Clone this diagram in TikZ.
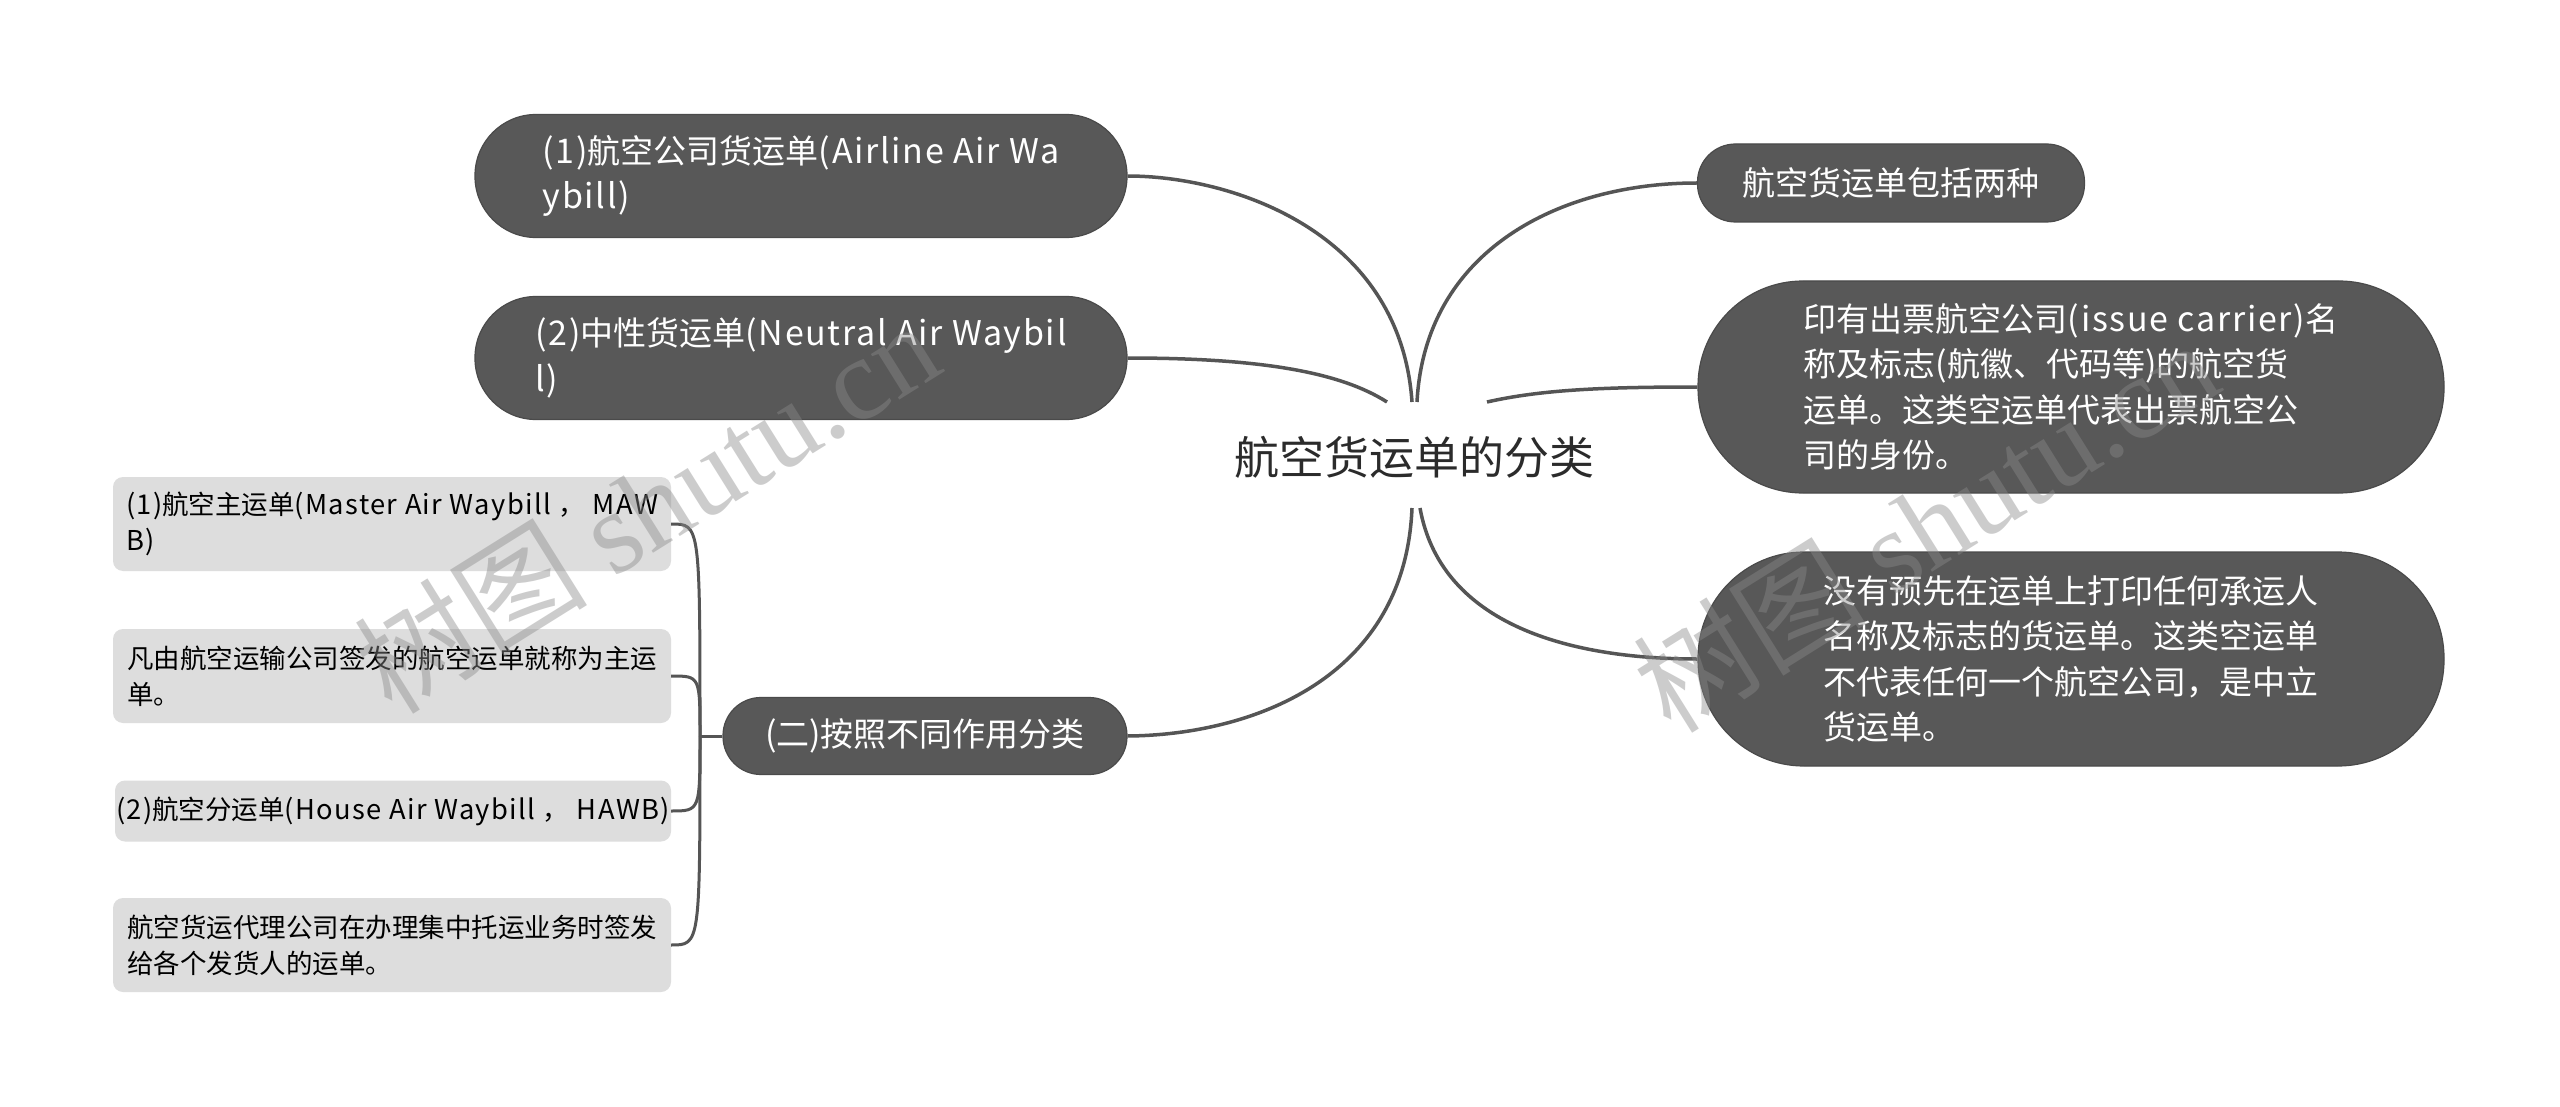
\documentclass[tikz,border=0pt]{standalone}
\usepackage{fontspec}
\usetikzlibrary{calc}
\setmainfont{Noto Sans CJK SC}
\newfontfamily\latf{Noto Sans CJK SC}[Scale=1.03, LetterSpace=5]
\newcommand{\lt}[1]{{\latf #1}}
\newfontfamily\wmserif{Liberation Serif}
\definecolor{nodeDark}{HTML}{585858}
\definecolor{nodeEdge}{HTML}{4A4A4A}
\definecolor{nodeLight}{HTML}{DDDDDD}
\definecolor{linkC}{HTML}{555555}
\definecolor{rootC}{HTML}{2B2B2B}
\definecolor{wmC}{HTML}{8A8A8A}
\tikzset{
  dark/.style={fill=nodeDark, draw=nodeEdge, line width=1.2pt, text=white, inner sep=0pt,
    align=left, font=\fontsize{33}{45.5}\selectfont},
  light/.style={fill=nodeLight, rounded corners=10pt, inner sep=0pt, align=left,
    text=black, font=\fontsize{26.5}{36}\selectfont},
  link/.style={draw=linkC, line width=3.5pt},
  sublink/.style={draw=linkC, line width=3pt},
  wm/.style={text=wmC, text opacity=0.43, inner sep=0pt, font=\fontsize{117}{117}\selectfont},
}
\begin{document}
\begin{tikzpicture}[x=1pt, y=-1pt]
\useasboundingbox[fill=white] (0,0) rectangle (2560,1107);

% root
\node[text=rootC, font=\fontsize{45}{50}\selectfont] (root) at (1414,457) {航空货运单的分类};

% left main branches
\node[dark, minimum width=652pt, minimum height=123pt, rounded corners=61pt] (A) at (801,176)
  {\lt{(1)}航空公司货运单\lt{(Airline Air Wa}\\\lt{ybill)}};
\node[dark, minimum width=652pt, minimum height=123pt, rounded corners=61pt] (B) at (801,358)
  {\lt{(2)}中性货运单\lt{(Neutral Air Waybil}\\\lt{l)}};
\node[dark, minimum width=404pt, minimum height=77pt, rounded corners=38pt] (T2) at (925,736)
  {\lt{(}二\lt{)}按照不同作用分类};

% right main branches
\node[dark, minimum width=387pt, minimum height=78pt, rounded corners=38pt] (C) at (1891,183)
  {航空货运单包括两种};
\node[dark, minimum width=746pt, minimum height=212pt, rounded corners=105pt] (D) at (2071,387)
  {印有出票航空公司\lt{(issue carrier)}名\\称及标志\lt{(}航徽、代码等\lt{)}的航空货\\运单。这类空运单代表出票航空公\\司的身份。};
\node[dark, minimum width=746pt, minimum height=214pt, rounded corners=106pt] (E) at (2071,659)
  {没有预先在运单上打印任何承运人\\名称及标志的货运单。这类空运单\\不代表任何一个航空公司，是中立\\货运单。};

% leaves
\node[light, minimum width=558pt, minimum height=94pt] (L1) at (392,524)
  {\lt{(1)}航空主运单\lt{(Master Air Waybill }，\lt{ MAW}\\\lt{B)}};
\node[light, minimum width=558pt, minimum height=94pt] (L2) at (392,676)
  {凡由航空运输公司签发的航空运单就称为主运\\单。};
\node[light, minimum width=556pt, minimum height=61pt] (L3) at (393,811)
  {\lt{(2)}航空分运单\lt{(House Air Waybill }，\lt{ HAWB)}};
\node[light, minimum width=558pt, minimum height=94pt] (L4) at (392,945)
  {航空货运代理公司在办理集中托运业务时签发\\给各个发货人的运单。};

% connection points near root
\coordinate (rA) at ($(root)+(-2,-55)$);
\coordinate (rB) at ($(root)+(-27,-55)$);
\coordinate (rC) at ($(root)+(3,-55)$);
\coordinate (rD) at ($(root)+(73,-55)$);
\coordinate (r2) at ($(root)+(-2,51)$);
\coordinate (rE) at ($(root)+(6,51)$);
\coordinate (sp) at (700,736);

\draw[link] (rA) .. controls (1400,230) and (1230,176) .. (A.east);
\draw[link] (rB) .. controls (1340,372) and (1260,358) .. (B.east);
\draw[link] (r2) .. controls (1405,680) and (1250,735) .. (T2.east);
\draw[link] (rC) .. controls (1425,250) and (1560,183) .. (C.west);
\draw[link] (rD) .. controls (1540,390) and (1600,387) .. (D.west);
\draw[link] (rE) .. controls (1440,620) and (1560,659) .. (E.west);

\draw[sublink] (T2.west) -- (sp);
\draw[sublink] (sp) .. controls (700,524) and (700,524) .. (L1.east);
\draw[sublink] (sp) .. controls (700,676) and (700,676) .. (L2.east);
\draw[sublink] (sp) .. controls (700,811) and (700,811) .. (L3.east);
\draw[sublink] (sp) .. controls (700,945) and (700,945) .. (L4.east);

% watermarks
\node[wm, rotate=32] (wm1) at (646,506) {树图 {\wmserif shutu.cn}};
\node[wm, rotate=32] (wm2) at (1925,525) {树图 {\wmserif shutu.cn}};
\end{tikzpicture}
\end{document}
